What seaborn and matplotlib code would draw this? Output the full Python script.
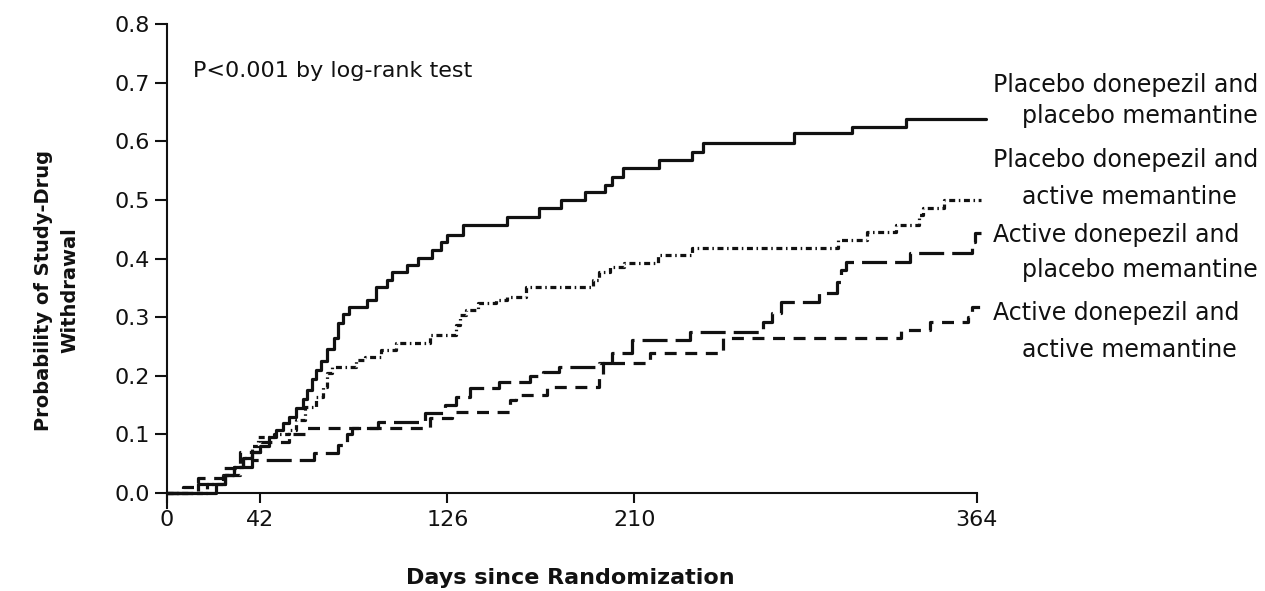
import matplotlib
matplotlib.use("Agg")
import matplotlib.pyplot as plt
import seaborn as sns
import pandas as pd

# ---------------- data ----------------
# Kaplan-Meier style step curves: (day, probability of withdrawal)
days_pp = [0, 22, 26, 30, 34, 38, 42, 46, 49, 52, 55, 58, 61, 63, 65, 67, 69, 72, 75, 77,
           79, 82, 90, 94, 99, 101, 108, 113, 119, 123, 126, 133, 153, 167, 177, 188,
           197, 200, 205, 221, 236, 241, 282, 308, 332, 368]
prob_pp = [0.0, 0.015, 0.03, 0.045, 0.06, 0.07, 0.08, 0.095, 0.107, 0.12, 0.13, 0.145,
           0.16, 0.175, 0.195, 0.21, 0.225, 0.245, 0.265, 0.29, 0.305, 0.318, 0.33,
           0.352, 0.363, 0.377, 0.389, 0.401, 0.415, 0.428, 0.44, 0.457, 0.471, 0.486,
           0.5, 0.514, 0.526, 0.54, 0.554, 0.568, 0.582, 0.597, 0.614, 0.625, 0.638, 0.638]

days_pa = [0, 18, 25, 30, 34, 38, 41, 48, 55, 58, 62, 67, 70, 72, 74, 85, 89, 96, 103,
           118, 130, 131.5, 134.6, 139.6, 148, 152.6, 161.5, 191.5, 194, 199, 205.6,
           220.6, 236, 301.6, 314.5, 327.8, 338, 340, 349, 366]
prob_pa = [0.0, 0.015, 0.03, 0.045, 0.06, 0.08, 0.096, 0.1, 0.107, 0.125, 0.147, 0.164,
           0.181, 0.205, 0.215, 0.227, 0.232, 0.244, 0.256, 0.27, 0.287, 0.304, 0.312,
           0.324, 0.329, 0.335, 0.352, 0.363, 0.377, 0.386, 0.392, 0.406, 0.418, 0.432,
           0.445, 0.457, 0.474, 0.486, 0.5, 0.5]

days_ap = [0, 14, 26, 33, 38, 66, 77, 81, 83, 95, 116, 125, 130, 136, 149, 163, 169, 176,
           194, 200, 209, 235, 268, 272, 276, 293, 301, 303, 305, 334, 362, 363, 366]
prob_ap = [0.0, 0.015, 0.03, 0.045, 0.056, 0.068, 0.082, 0.1, 0.111, 0.121, 0.136, 0.15,
           0.164, 0.179, 0.19, 0.2, 0.207, 0.215, 0.222, 0.239, 0.261, 0.275, 0.292,
           0.307, 0.326, 0.341, 0.36, 0.38, 0.394, 0.41, 0.428, 0.444, 0.444]

days_aa = [0, 7, 14, 25, 33, 42, 55, 63, 118, 128, 154, 157, 171, 194, 196, 217, 250,
           330, 343, 360, 362, 366]
prob_aa = [0.0, 0.01, 0.026, 0.043, 0.07, 0.087, 0.1, 0.111, 0.128, 0.138, 0.159, 0.167,
           0.181, 0.2, 0.222, 0.239, 0.264, 0.278, 0.292, 0.30, 0.317, 0.317]

label_pp = ["Placebo donepezil and", "placebo memantine"]
label_pa = ["Placebo donepezil and", "active memantine"]
label_ap = ["Active donepezil and", "placebo memantine"]
label_aa = ["Active donepezil and", "active memantine"]

x_ticks = [0, 42, 126, 210, 364]
y_ticks = [0.0, 0.1, 0.2, 0.3, 0.4, 0.5, 0.6, 0.7, 0.8]
y_tick_labels = ["0.0", "0.1", "0.2", "0.3", "0.4", "0.5", "0.6", "0.7", "0.8"]

annotation = "P<0.001 by log-rank test"
x_label = "Days since Randomization"
y_label = "Probability of Study-Drug\nWithdrawal"

# ---------------- figure ----------------
sns.set_style("ticks")
plt.rcParams["font.family"] = ["DejaVu Sans"]
plt.rcParams["lines.scale_dashes"] = False

W, H = 1265, 591
fig = plt.figure(figsize=(W / 100, H / 100), dpi=100)
ax = fig.add_axes([149.2 / W, 1 - 507.6 / H, 838.8 / W, 483.4 / H])

ink = "#111111"
series = [
    (days_pp, prob_pp, "-"),
    (days_pa, prob_pa, (0, (4.3, 2.6, 1.1, 2.6))),
    (days_ap, prob_ap, (0, (18, 5.8))),
    (days_aa, prob_aa, (0, (8.6, 6.2))),
]
for d, p, ls in series:
    df = pd.DataFrame({"day": d, "prob": p})
    sns.lineplot(data=df, x="day", y="prob", ax=ax, estimator=None, sort=False,
                 drawstyle="steps-post", color=ink, linewidth=2.3, linestyle=ls)

ax.set_xlim(-8, 369)
ax.set_ylim(-0.025, 0.8)
ax.set_xticks(x_ticks)
ax.set_xticklabels([str(t) for t in x_ticks])
ax.set_yticks(y_ticks)
ax.set_yticklabels(y_tick_labels)
ax.set_xlabel("")
ax.set_ylabel("")

for s in ["top", "right"]:
    ax.spines[s].set_visible(False)
ax.spines["left"].set_position(("data", 0))
ax.spines["bottom"].set_position(("data", 0))
ax.spines["left"].set_bounds(-0.025, 0.8)
ax.spines["bottom"].set_bounds(0, 364)
for s in ["left", "bottom"]:
    ax.spines[s].set_linewidth(1.5)
    ax.spines[s].set_color(ink)

ax.tick_params(axis="y", direction="out", length=8.5, width=1.5, labelsize=16,
               pad=3.5, colors=ink)
ax.tick_params(axis="x", direction="out", length=7.5, width=1.5, labelsize=16,
               pad=5, colors=ink)

# annotation
fig.text(193 / W, 1 - 71 / H, annotation, fontsize=16, color=ink,
         ha="left", va="center")

# right-hand curve labels
label_rows = [(label_pp, 85, 116), (label_pa, 160, 197),
              (label_ap, 235, 270), (label_aa, 313, 350)]
for lab, y1, y2 in label_rows:
    fig.text(993 / W, 1 - y1 / H, lab[0], fontsize=17, color=ink, ha="left", va="center")
    fig.text(1022 / W, 1 - y2 / H, lab[1], fontsize=17, color=ink, ha="left", va="center")

# axis titles
fig.text(570 / W, 1 - 578 / H, x_label, fontsize=16, fontweight="bold", color=ink,
         ha="center", va="center")
fig.text(57 / W, 1 - 290 / H, y_label, fontsize=14, fontweight="bold", color=ink,
         ha="center", va="center", rotation=90, multialignment="center",
         linespacing=1.5)

fig.savefig("out.png", dpi=100)
